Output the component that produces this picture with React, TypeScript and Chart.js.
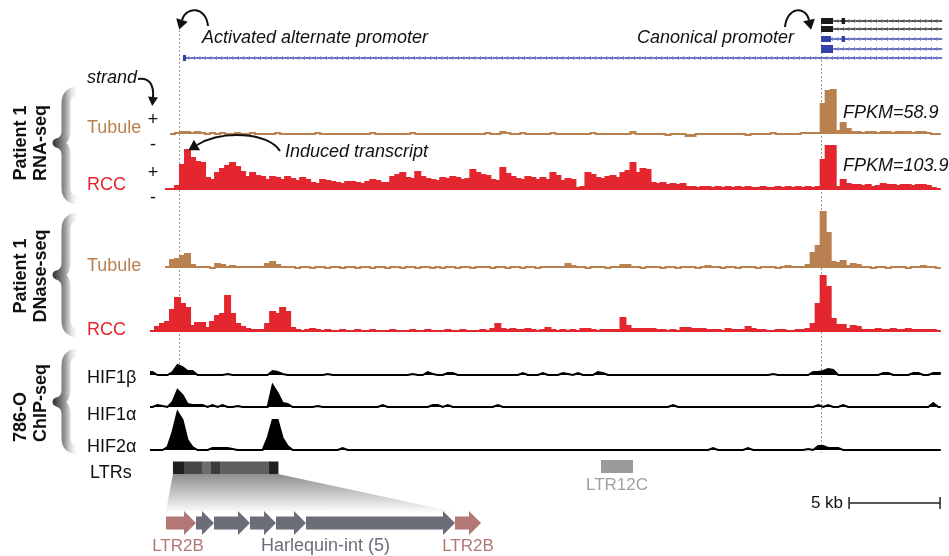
import React, { useEffect, useRef } from "react";
import { Chart, registerables } from "chart.js";

Chart.register(...registerables);

/* ======================= DATA ======================= */

// every signal track is binned; bin i starts at i * BIN_KB (kb from the left edge of the tracks)
const BIN_KB = 0.275;

// Patient 1 RNA-seq – normal tubule (negative = minus strand)
const rnaTubule = [
  null, null, null, null, 0, 1, 2, 2, 1, 2,
  1, 0, 1, 0, 1, 0, 0, 1, 0, 0,
  1, 0, 0, 0, 0, 1, 0, 0, 0, 0,
  0, 0, 0, 1, 0, 0, 0, 0, 0, 0,
  0, 0, 0, 0, 1, 0, 0, 0, 0, 0,
  0, 0, 1, 0, 0, 0, 0, 0, 0, 0,
  0, 0, 0, 0, 0, 0, 0, 1, 0, 0,
  2, 1, 0, 0, 1, 0, 0, 0, 0, 0,
  1, 0, 0, 0, 0, 0, 0, 0, 1, 0,
  0, 0, 0, 0, 0, 0, 2, 0, 0, 0,
  0, 0, 0, -1, 0, 0, 0, -2, -2, 0,
  0, 0, 0, 0, 0, 0, 0, 0, 0, -1,
  0, 0, 0, 0, 1, 0, 0, 0, 0, 0,
  1, 1, 1, 1, 30, 43, 44, 3, 11, 5,
  2, 2, 1, 2, 2, 1, 2, 2, 1, 2,
  2, 2, 1, 2, 2, 1, 0, 0,
];

// Patient 1 RNA-seq – RCC
const rnaRcc = [
  null, null, null, 1, 1, 4, 25, 40, 32, 28,
  27, 12, 10, 17, 21, 24, 27, 23, 18, 13,
  17, 14, 13, 10, 13, 12, 10, 13, 11, 9,
  12, 10, 7, 6, 10, 9, 8, 7, 6, 8,
  8, 7, 6, 8, 10, 9, 7, 7, 13, 15,
  17, 12, 11, 18, 13, 11, 10, 9, 12, 11,
  13, 12, 10, 11, 20, 17, 15, 14, 10, 9,
  22, 16, 13, 11, 10, 13, 12, 10, 12, 10,
  17, 14, 9, 11, 10, 2, 3, 17, 15, 12,
  11, 13, 14, 12, 17, 19, 27, 17, 21, 20,
  7, 6, 7, 5, 6, 5, 6, 3, 3, 2,
  3, 3, 2, 3, 2, 3, 2, 3, 2, 3,
  2, 2, 3, 2, 2, 3, 2, 3, 2, 3,
  2, 3, 2, 3, 30, 44, 44, 3, 10, 6,
  5, 5, 4, 5, 3, 4, 6, 5, 5, 4,
  5, 5, 4, 5, 5, 4, 2, 1,
];

// Patient 1 DNase-seq – normal tubule
const dnaseTubule = [
  null, null, null, 1, 8, 9, 12, 14, 3, 1,
  1, 1, 0, 4, 3, 1, 2, 1, 1, 1,
  1, 1, 1, 4, 6, 3, 1, 1, 1, 0,
  1, 1, 0, 1, 1, 0, 1, 1, 0, 1,
  1, 0, 1, 1, 0, 1, 1, 0, 1, 1,
  0, 1, 1, 0, 1, 1, 0, 1, 0, 1,
  1, 0, 1, 1, 0, 1, 1, 1, 0, 1,
  1, 0, 1, 1, 0, 1, 1, 0, 1, 1,
  1, 1, 1, 4, 2, 1, 1, 0, 1, 1,
  1, 0, 1, 1, 3, 3, 1, 1, 0, 1,
  1, 1, 0, 1, 1, 0, 1, 1, 1, 0,
  1, 2, 1, 1, 0, 1, 1, 0, 1, 1,
  1, 0, 1, 1, 1, 0, 1, 2, 1, 1,
  1, 3, 15, 22, 56, 35, 6, 5, 7, 2,
  4, 3, 1, 1, 0, 1, 1, 0, 1, 1,
  1, 0, 1, 1, 2, 1, 1, 0,
];

// Patient 1 DNase-seq – RCC
const dnaseRcc = [
  1, 5, 8, 10, 22, 34, 28, 24, 6, 9,
  9, 4, 10, 16, 18, 36, 18, 8, 5, 3,
  2, 2, 2, 8, 20, 18, 24, 20, 4, 2,
  1, 2, 3, 2, 1, 2, 1, 1, 2, 1,
  1, 2, 1, 1, 2, 1, 1, 1, 2, 1,
  1, 1, 2, 1, 1, 2, 1, 1, 1, 2,
  1, 1, 2, 1, 1, 1, 2, 1, 3, 8,
  3, 2, 3, 2, 2, 3, 2, 1, 2, 4,
  2, 1, 2, 1, 2, 1, 3, 3, 2, 1,
  2, 2, 2, 2, 14, 6, 3, 3, 3, 3,
  3, 2, 2, 1, 2, 1, 4, 4, 3, 3,
  3, 2, 2, 2, 1, 3, 2, 2, 2, 5,
  3, 2, 2, 1, 1, 2, 2, 1, 1, 2,
  2, 3, 8, 28, 56, 45, 13, 7, 7, 3,
  6, 5, 2, 2, 2, 3, 2, 2, 3, 2,
  2, 3, 2, 2, 2, 2, 2, 1,
];

// 786-O ChIP-seq
const chipHif1b = [
  3, 0, 0, 0, 3, 10, 8, 4, 4, 0,
  0, 0, 0, 0, 0, 1, 0, 0, 0, 0,
  0, 0, 0, 0, 4, 3, 1, 0, 0, 0,
  0, 0, 0, 0, 0, 1, 0, 0, 0, 0,
  0, 0, 0, 0, 0, 0, 0, 0, 0, 0,
  0, 0, 1, 0, 0, 3, 1, 0, 0, 2,
  2, 0, 0, 0, 0, 0, 0, 0, 0, 0,
  0, 0, 0, 0, 2, 0, 0, 0, 2, 0,
  0, 0, 2, 1, 0, 2, 0, 0, 0, 3,
  2, 0, 0, 0, 0, 0, 0, 0, 0, 0,
  0, 0, 0, 0, 0, 0, 0, 0, 0, 0,
  0, 0, 0, 0, 0, 0, 0, 0, 0, 0,
  0, 0, 0, 0, 1, 0, 0, 0, 0, 0,
  0, 0, 3, 3, 4, 6, 5, 0, 0, 0,
  0, 0, 0, 0, 0, 0, 2, 2, 0, 0,
  0, 0, 2, 2, 0, 0, 2, 2,
];

const chipHif1a = [
  0, 2, 1, 0, 5, 17, 12, 3, 2, 2,
  2, 0, 2, 0, 2, 0, 0, 1, 0, 0,
  0, 0, 0, 0, 22, 14, 4, 3, 0, 0,
  0, 0, 0, 1, 0, 0, 0, 0, 0, 0,
  0, 0, 0, 0, 0, 0, 2, 0, 0, 0,
  0, 0, 0, 0, 0, 0, 2, 2, 0, 2,
  0, 0, 0, 0, 0, 0, 0, 0, 0, 2,
  0, 0, 0, 0, 0, 0, 0, 0, 0, 0,
  0, 0, 0, 0, 0, 0, 0, 0, 0, 0,
  0, 0, 0, 0, 0, 0, 0, 0, 0, 0,
  0, 0, 0, 0, 2, 0, 0, 0, 0, 0,
  0, 0, 0, 0, 0, 0, 0, 0, 0, 0,
  0, 0, 0, 0, 0, 0, 0, 0, 0, 0,
  0, 0, 0, 2, 0, 2, 0, 0, 2, 0,
  0, 0, 0, 0, 0, 0, 0, 0, 0, 0,
  0, 0, 0, 0, 0, 0, 4, 0,
];

const chipHif2a = [
  0, 0, 0, 3, 18, 38, 30, 10, 3, 0,
  0, 0, 2, 2, 2, 2, 1, 0, 0, 0,
  0, 0, 0, 12, 30, 30, 12, 4, 0, 0,
  0, 0, 0, 0, 0, 0, 0, 0, 2, 0,
  0, 0, 0, 0, 0, 0, 0, 0, 0, 0,
  0, 0, 0, 0, 0, 0, 0, 0, 0, 0,
  0, 0, 0, 0, 0, 0, 0, 0, 0, 0,
  0, 0, 0, 0, 0, 0, 0, 0, 0, 0,
  0, 0, 0, 0, 0, 0, 0, 0, 0, 0,
  0, 0, 0, 0, 0, 0, 0, 0, 0, 0,
  0, 0, 0, 0, 0, 0, 0, 0, 0, 0,
  0, 0, 2, 0, 0, 0, 0, 0, 0, 2,
  0, 0, 0, 0, 0, 0, 0, 0, 0, 0,
  0, 1, 0, 4, 4, 2, 2, 2, 0, 0,
  0, 0, 0, 0, 0, 0, 0, 0, 0, 0,
  0, 0, 0, 0, 0, 0, 0, 0,
];

const trackNames = ["Tubule", "RCC", "Tubule", "RCC", "HIF1β", "HIF1α", "HIF2α"];
const groupLabels = [
  ["Patient 1", "RNA-seq"],
  ["Patient 1", "DNase-seq"],
  ["786-O", "ChIP-seq"],
];
const fpkmLabels = ["FPKM=58.9", "FPKM=103.9"];

// gene model (kb)
const ALT_TSS_KB = 1.59;
const CANON_TSS_KB = 36.87;
const GENE_END_KB = 43.52;
const isoformStartKb = [36.87, 36.87, 36.87, 36.87, 1.81];
const isoformExonsKb = [
  [[36.87, 37.53], [38.0, 38.19]],
  [[36.87, 37.53]],
  [[36.87, 37.42], [38.0, 38.19]],
  [[36.87, 37.53]],
  [[1.81, 1.98]],
];

// repeats (kb)
const ltrBoundsKb = [1.26, 1.87, 2.86, 3.35, 3.85, 6.54, 7.03];
const ltr12cKb = [24.78, 26.54];
const repeatParts = ["LTR2B", "Harlequin-int", "Harlequin-int", "Harlequin-int", "Harlequin-int", "Harlequin-int", "LTR2B"];
const repeatPartLengths = [30, 18, 36, 26, 30, 149, 26];

const SCALE_BAR_KB = 5;
const SCALE_BAR_START_KB = 38.41;

/* ======================= LAYOUT / STYLE ======================= */

const W = 949;
const H = 556;
const PX_PER_KB = 18.2;
const TRACK_LEFT = 150;
const FONT = '"Liberation Sans", Arial, Helvetica, sans-serif';
const BROWN = "#b98050";
const RED = "#e4262e";
const PINK = "#b37775";
const SLATE = "#6b6e79";
const BLUE = "#3441a6";

const trackData = [rnaTubule, rnaRcc, dnaseTubule, dnaseRcc, chipHif1b, chipHif1a, chipHif2a];
const trackColors = [BROWN, RED, BROWN, RED, "#000", "#000", "#000"];
const trackBaselines = [134, 190, 268, 332, 375, 407, 450];
const trackStepped = [true, true, true, true, false, false, false];
const labelBaselines = [133, 190, 271, 335, 383, 420, 452];

const isoRowY = [21, 29, 39, 49, 58];
const isoColors = ["#1b1b1b", "#1b1b1b", BLUE, BLUE, BLUE];
const isoTick = ["#8a8a8a", "#8a8a8a", "#8d95d6", "#8d95d6", "#8d95d6"];
const isoExonH = [6, 6, 6, 8, 6];

const ltrColors = ["#1f1f1f", "#474747", "#6c6c6c", "#3b3b3b", "#5f5f5f", "#222222"];

/* ======================= helpers ======================= */

function stepPoints(vals: (number | null)[]) {
  const pts: any[] = vals.map((v, i) => ({ x: i * BIN_KB, y: v }));
  pts.push({ x: vals.length * BIN_KB, y: vals[vals.length - 1] });
  return pts;
}
function centerPoints(vals: (number | null)[]) {
  const pts: any[] = [{ x: 0, y: vals[0] }];
  vals.forEach((v, i) => pts.push({ x: (i + 0.5) * BIN_KB, y: v }));
  pts.push({ x: vals.length * BIN_KB, y: vals[vals.length - 1] });
  return pts;
}

function font(size: number, style = "") {
  return `${style} ${size}px ${FONT}`.trim();
}
function txt(ctx: CanvasRenderingContext2D, s: string, x: number, y: number, size: number, color: string, style = "", align: CanvasTextAlign = "left", base: CanvasTextBaseline = "alphabetic") {
  ctx.font = font(size, style);
  ctx.fillStyle = color;
  ctx.textAlign = align;
  ctx.textBaseline = base;
  ctx.fillText(s, x, y);
}
function vtxt(ctx: CanvasRenderingContext2D, s: string, x: number, y: number, align: CanvasTextAlign) {
  ctx.save();
  ctx.translate(x, y);
  ctx.rotate(-Math.PI / 2);
  ctx.font = font(18, "bold");
  ctx.fillStyle = "#111";
  ctx.textAlign = align;
  ctx.textBaseline = "alphabetic";
  ctx.fillText(s, 0, 0);
  ctx.restore();
}
function arrowHead(ctx: CanvasRenderingContext2D, fx: number, fy: number, tx: number, ty: number, len: number, half: number) {
  const a = Math.atan2(ty - fy, tx - fx);
  const px = Math.cos(a + Math.PI / 2);
  const py = Math.sin(a + Math.PI / 2);
  ctx.beginPath();
  ctx.moveTo(tx + Math.cos(a) * len, ty + Math.sin(a) * len);
  ctx.lineTo(tx + px * half, ty + py * half);
  ctx.lineTo(tx - px * half, ty - py * half);
  ctx.closePath();
  ctx.fill();
}
function curvedArrow(ctx: CanvasRenderingContext2D, p: number[], len = 10, half = 6) {
  ctx.strokeStyle = "#111";
  ctx.fillStyle = "#111";
  ctx.lineWidth = 2;
  ctx.beginPath();
  ctx.moveTo(p[0], p[1]);
  ctx.bezierCurveTo(p[2], p[3], p[4], p[5], p[6], p[7]);
  ctx.stroke();
  arrowHead(ctx, p[4], p[5], p[6], p[7], len, half);
}
function brace(ctx: CanvasRenderingContext2D, top: number, mid: number, bottom: number) {
  const g = ctx.createLinearGradient(54, 0, 79, 0);
  g.addColorStop(0, "#3a3a3a");
  g.addColorStop(0.45, "#9b9b9b");
  g.addColorStop(1, "rgba(255,255,255,0)");
  ctx.strokeStyle = g;
  ctx.lineWidth = 9;
  ctx.lineJoin = "round";
  const sx = 66, ex = 79, tx = 57;
  ctx.beginPath();
  ctx.moveTo(ex, top + 4);
  ctx.quadraticCurveTo(sx, top + 4, sx, top + 16);
  ctx.lineTo(sx, mid - 12);
  ctx.quadraticCurveTo(sx, mid - 2, tx, mid);
  ctx.quadraticCurveTo(sx, mid + 2, sx, mid + 12);
  ctx.lineTo(sx, bottom - 16);
  ctx.quadraticCurveTo(sx, bottom - 4, ex, bottom - 4);
  ctx.stroke();
}
function blockArrow(ctx: CanvasRenderingContext2D, x0: number, x1: number, yc: number, color: string) {
  const bh = 13, hh = 24, hl = 12;
  ctx.fillStyle = color;
  ctx.beginPath();
  ctx.moveTo(x0, yc - bh / 2);
  ctx.lineTo(x1 - hl, yc - bh / 2);
  ctx.lineTo(x1 - hl, yc - hh / 2);
  ctx.lineTo(x1, yc);
  ctx.lineTo(x1 - hl, yc + hh / 2);
  ctx.lineTo(x1 - hl, yc + bh / 2);
  ctx.lineTo(x0, yc + bh / 2);
  ctx.closePath();
  ctx.fill();
}

const figurePlugin = {
  id: "figureAnnotations",
  beforeDatasetsDraw(chart: any) {
    const ctx: CanvasRenderingContext2D = chart.ctx;
    const X = (kb: number) => chart.scales.x.getPixelForValue(kb);
    ctx.save();
    ctx.strokeStyle = "#9a9a9a";
    ctx.lineWidth = 1;
    ctx.setLineDash([2, 2]);
    const xa = Math.round(X(ALT_TSS_KB)) + 0.5;
    ctx.beginPath();
    ctx.moveTo(xa, 30);
    ctx.lineTo(xa, 372);
    ctx.stroke();
    const xc = Math.round(X(CANON_TSS_KB)) + 0.5;
    ctx.beginPath();
    ctx.moveTo(xc, 20);
    ctx.lineTo(xc, 453);
    ctx.stroke();
    ctx.restore();
  },
  afterDatasetsDraw(chart: any) {
    const ctx: CanvasRenderingContext2D = chart.ctx;
    const X = (kb: number) => chart.scales.x.getPixelForValue(kb);
    ctx.save();

    /* ---- gene model ---- */
    isoRowY.forEach((y, r) => {
      const x0 = X(isoformStartKb[r]);
      const x1 = X(GENE_END_KB);
      ctx.strokeStyle = isoColors[r];
      ctx.lineWidth = 1.5;
      ctx.beginPath();
      ctx.moveTo(x0, y);
      ctx.lineTo(x1, y);
      ctx.stroke();
      ctx.strokeStyle = isoTick[r];
      ctx.lineWidth = 1;
      ctx.beginPath();
      for (let x = x0 + 7; x < x1 - 2; x += 5.5) {
        ctx.moveTo(x - 1.5, y - 2);
        ctx.lineTo(x + 0.5, y);
        ctx.lineTo(x - 1.5, y + 2);
      }
      ctx.stroke();
      ctx.fillStyle = isoColors[r];
      isoformExonsKb[r].forEach(([a, b]) => {
        ctx.fillRect(X(a), y - isoExonH[r] / 2, X(b) - X(a), isoExonH[r]);
      });
    });

    /* ---- promoter annotations ---- */
    curvedArrow(ctx, [208, 26, 206, 6, 186, 6, 182, 20]);
    curvedArrow(ctx, [785, 27, 787, 6, 806, 6, 809, 20]);
    txt(ctx, "Activated alternate promoter", 202, 43, 18, "#111", "italic");
    txt(ctx, "Canonical promoter", 637, 43, 18, "#111", "italic");

    /* ---- strand ---- */
    txt(ctx, "strand", 87, 83, 18, "#111", "italic");
    curvedArrow(ctx, [138, 79, 150, 77, 154, 86, 153, 97], 9, 5);

    /* ---- group labels + braces ---- */
    vtxt(ctx, groupLabels[0][0], 26, 143, "center");
    vtxt(ctx, groupLabels[0][1], 46, 143, "center");
    vtxt(ctx, groupLabels[1][0], 26, 276, "center");
    vtxt(ctx, groupLabels[1][1], 46, 276, "center");
    vtxt(ctx, groupLabels[2][0], 26, 442, "left");
    vtxt(ctx, groupLabels[2][1], 46, 442, "left");
    brace(ctx, 87, 143, 204);
    brace(ctx, 213, 275, 337);
    brace(ctx, 349, 402, 454);

    /* ---- track labels ---- */
    trackNames.forEach((n, i) => {
      txt(ctx, n, 87, labelBaselines[i], 18, i < 4 ? trackColors[i] : "#111");
    });
    txt(ctx, "+", 153, 120, 18, "#111", "", "center", "middle");
    txt(ctx, "-", 153, 145, 18, "#111", "", "center", "middle");
    txt(ctx, "+", 153, 173, 18, "#111", "", "center", "middle");
    txt(ctx, "-", 153, 198, 18, "#111", "", "center", "middle");

    /* ---- induced transcript ---- */
    txt(ctx, "Induced transcript", 285, 157, 18, "#111", "italic");
    curvedArrow(ctx, [280, 151, 268, 132, 222, 130, 197, 145]);

    /* ---- FPKM ---- */
    txt(ctx, fpkmLabels[0], 843, 118, 18, "#111", "italic");
    txt(ctx, fpkmLabels[1], 843, 171, 18, "#111", "italic");

    /* ---- LTR track ---- */
    txt(ctx, "LTRs", 90, 478, 18, "#111");
    const lx0 = X(ltrBoundsKb[0]);
    const lx1 = X(ltrBoundsKb[ltrBoundsKb.length - 1]);
    const g = ctx.createLinearGradient(0, 474, 0, 513);
    g.addColorStop(0, "#8e8e8e");
    g.addColorStop(1, "rgba(255,255,255,1)");
    ctx.fillStyle = g;
    ctx.beginPath();
    ctx.moveTo(lx0, 474);
    ctx.lineTo(lx1, 474);
    ctx.lineTo(455, 512);
    ctx.lineTo(166, 511);
    ctx.closePath();
    ctx.fill();
    for (let i = 0; i < ltrBoundsKb.length - 1; i++) {
      ctx.fillStyle = ltrColors[i];
      const a = X(ltrBoundsKb[i]);
      const b = X(ltrBoundsKb[i + 1]);
      ctx.fillRect(a, 461.5, b - a + 0.5, 12.5);
    }
    ctx.fillStyle = "#9b9b9b";
    const c0 = X(ltr12cKb[0]);
    const c1 = X(ltr12cKb[1]);
    ctx.fillRect(c0, 460, c1 - c0, 13);
    txt(ctx, "LTR12C", (c0 + c1) / 2, 490, 17, "#a0a0a0", "", "center");

    /* ---- expanded repeat schematic ---- */
    const total = repeatPartLengths.reduce((s, v) => s + v, 0);
    const sx0 = 166, sx1 = 481;
    const k = (sx1 - sx0) / total;
    let cur = sx0;
    const centers: number[] = [];
    repeatParts.forEach((name, i) => {
      const w = repeatPartLengths[i] * k;
      blockArrow(ctx, cur, cur + w, 523, name === "LTR2B" ? PINK : SLATE);
      centers.push(cur + w / 2);
      cur += w;
    });
    txt(ctx, "LTR2B", centers[0] - 3, 551, 17, PINK, "", "center");
    txt(ctx, "Harlequin-int (5)", (sx0 + repeatPartLengths[0] * k + sx1 - repeatPartLengths[6] * k) / 2, 551, 18, SLATE, "", "center");
    txt(ctx, "LTR2B", centers[6], 551, 17, PINK, "", "center");

    /* ---- scale bar ---- */
    const b0 = X(SCALE_BAR_START_KB);
    const b1 = X(SCALE_BAR_START_KB + SCALE_BAR_KB);
    ctx.strokeStyle = "#222";
    ctx.lineWidth = 1.5;
    ctx.beginPath();
    ctx.moveTo(b0, 503);
    ctx.lineTo(b1, 503);
    ctx.moveTo(b0, 497);
    ctx.lineTo(b0, 509);
    ctx.moveTo(b1, 497);
    ctx.lineTo(b1, 509);
    ctx.stroke();
    txt(ctx, `${SCALE_BAR_KB} kb`, b0 - 6, 508, 17, "#111", "", "right");

    ctx.restore();
  },
};

export default function App() {
  const ref = useRef<HTMLCanvasElement>(null);
  useEffect(() => {
    if (!ref.current) return;
    const scales: any = {
      x: {
        type: "linear",
        display: false,
        min: -TRACK_LEFT / PX_PER_KB,
        max: (W - TRACK_LEFT) / PX_PER_KB,
      },
    };
    trackData.forEach((_, i) => {
      scales["y" + i] = {
        type: "linear",
        display: false,
        min: -(H - trackBaselines[i]),
        max: trackBaselines[i],
      };
    });
    const chart = new Chart(ref.current, {
      type: "line",
      data: {
        datasets: trackData.map((vals, i) => ({
          label: trackNames[i],
          data: trackStepped[i] ? stepPoints(vals) : centerPoints(vals),
          xAxisID: "x",
          yAxisID: "y" + i,
          borderColor: trackColors[i],
          backgroundColor: trackColors[i],
          borderWidth: 2,
          fill: "origin",
          stepped: trackStepped[i],
          tension: 0,
          pointRadius: 0,
          pointHoverRadius: 0,
          spanGaps: false,
        })),
      },
      options: {
        responsive: false,
        animation: false,
        devicePixelRatio: 1,
        events: [],
        layout: { autoPadding: false, padding: 0 },
        scales,
        plugins: {
          legend: { display: false },
          tooltip: { enabled: false },
        },
      } as any,
      plugins: [figurePlugin],
    });
    return () => chart.destroy();
  }, []);
  return (
    <div style={{ position: "absolute", left: 0, top: 0, width: W, height: H, background: "#fff" }}>
      <canvas ref={ref} width={W} height={H} style={{ display: "block", width: W, height: H }} />
    </div>
  );
}
